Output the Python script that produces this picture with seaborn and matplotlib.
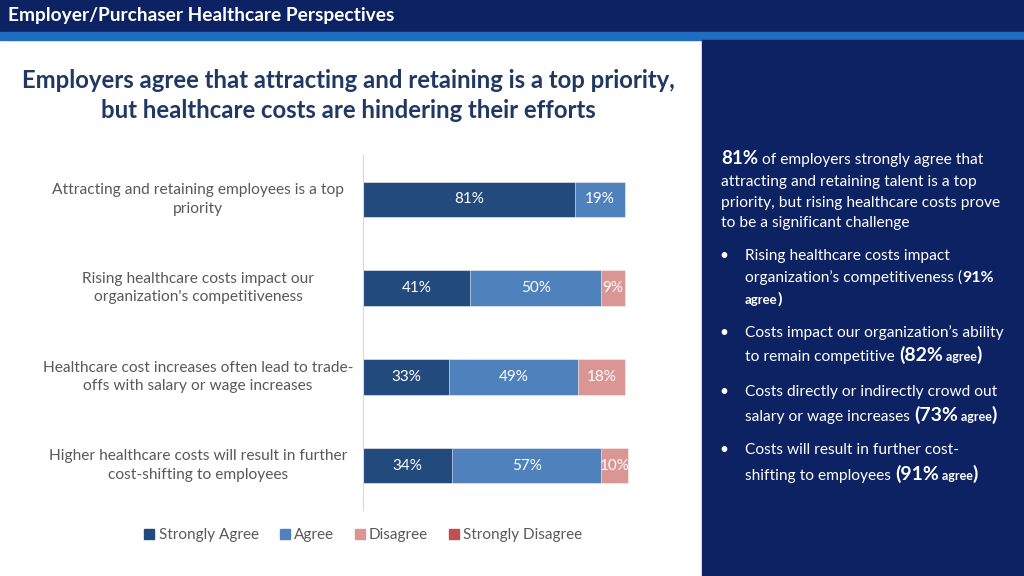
import pandas as pd
import numpy as np
import matplotlib
matplotlib.use("Agg")
import matplotlib.pyplot as plt
from matplotlib.patches import Rectangle
from matplotlib.lines import Line2D
import seaborn as sns

# data
categories = [
    "Attracting and retaining employees is a top\npriority",
    "Rising healthcare costs impact our\norganization's competitiveness",
    "Healthcare cost increases often lead to trade-\noffs with salary or wage increases",
    "Higher healthcare costs will result in further\ncost-shifting to employees",
]
strongly_agree = [81, 41, 33, 34]
agree = [19, 50, 49, 57]
disagree = [0, 9, 18, 10]
strongly_disagree = [0, 0, 0, 0]
series_names = ["Strongly Agree", "Agree", "Disagree", "Strongly Disagree"]
colors = ["#234a7d", "#4f81bd", "#d99694", "#c0504d"]

NAVY = "#0c2262"
FONT = "Lato"

sns.set_style("white")
plt.rcParams["font.family"] = [FONT, "DejaVu Sans"]

W, H = 1024, 576
fig = plt.figure(figsize=(W / 100, H / 100), dpi=100)


def px(x, y):
    return x / W, 1 - y / H


# slide background
fig.patches.append(Rectangle(px(0, 32), 1, 32 / H, transform=fig.transFigure, color=NAVY, zorder=0))
fig.patches.append(Rectangle(px(0, 40), 1, 8 / H, transform=fig.transFigure, color="#1f6cc0", zorder=0))
fig.patches.append(Rectangle(px(702, 576), 322 / W, 536 / H, transform=fig.transFigure, color=NAVY, zorder=0))

fig.text(*px(8, 15), "Employer/Purchaser Healthcare Perspectives", color="white",
         fontsize=13.8, fontweight="bold", va="center", ha="left")

fig.text(*px(348, 81), "Employers agree that attracting and retaining is a top priority,",
         color="#1f3864", fontsize=17.2, fontweight="bold", ha="center", va="center")
fig.text(*px(348, 111), "but healthcare costs are hindering their efforts",
         color="#1f3864", fontsize=17.2, fontweight="bold", ha="center", va="center")

# stacked bars
df = pd.DataFrame({"category": categories, "Strongly Agree": strongly_agree, "Agree": agree,
                   "Disagree": disagree, "Strongly Disagree": strongly_disagree})
cum = df[series_names].cumsum(axis=1)

ax = fig.add_axes([363 / W, 1 - 510 / H, 262 / W, 355 / H])
for name, col in reversed(list(zip(series_names, colors))):
    sns.barplot(x=cum[name], y=df["category"], orient="h", color=col, width=0.4,
                ax=ax, saturation=1, edgecolor="white", linewidth=0.4)
for p in ax.patches:
    p.set_clip_on(False)

for i in range(len(df)):
    left = 0
    for name in series_names:
        v = df[name][i]
        if v > 0:
            ax.text(left + v / 2, i, f"{v}%", color="white", fontsize=11,
                    ha="center", va="center")
        left += v

ax.set_xlim(0, 100)
ax.set_xticks([])
ax.set_yticks([])
ax.set_xlabel("")
ax.set_ylabel("")
for s in ["top", "right", "bottom"]:
    ax.spines[s].set_visible(False)
ax.spines["left"].set_color("#d9d9d9")

for i, c in enumerate(categories):
    ax.text((198 - 363) / 262, i, c, transform=ax.get_yaxis_transform(), ha="center",
            va="center", fontsize=11.2, color="#595959", linespacing=1.4)

handles = [Line2D([], [], marker="s", linestyle="", color=c, markersize=7) for c in colors]
fig.legend(handles, series_names, loc="center", bbox_to_anchor=px(362, 535), ncol=4,
           frameon=False, fontsize=11, handletextpad=0.1, columnspacing=1.2,
           labelcolor="#595959", handlelength=1.0)

# right panel rich text
renderer = fig.canvas.get_renderer()


def rich(x, y, parts):
    for txt, size, bold in parts:
        t = fig.text(*px(x, y), txt, color="white", fontsize=size,
                     fontweight="bold" if bold else "normal", ha="left", va="baseline")
        bb = t.get_window_extent(renderer)
        x += bb.width


N = 11.2
rich(721, 164, [("81%", 13.5, True), (" of employers strongly agree that", N, False)])
rich(721, 186, [("attracting and retaining talent is a top", N, False)])
rich(721, 207, [("priority, but rising healthcare costs prove", N, False)])
rich(721, 227, [("to be a significant challenge", N, False)])

bullets = [
    (260, [[("Rising healthcare costs impact", N, False)],
           [("organization\u2019s competitiveness (", N, False), ("91%", 11.5, True)],
           [("agree", 9.5, True), (")", 11.5, True)]], [0, 22, 44]),
    (337, [[("Costs impact our organization\u2019s ability", N, False)],
           [("to remain competitive ", N, False), ("(82%", 14, True), (" agree", 9, True), (")", 14, True)]],
     [0, 24]),
    (396, [[("Costs directly or indirectly crowd out", N, False)],
           [("salary or wage increases ", N, False), ("(73%", 14, True), (" agree", 9, True), (")", 14, True)]],
     [0, 25]),
    (454, [[("Costs will result in further cost-", N, False)],
           [("shifting to employees ", N, False), ("(91%", 14, True), (" agree", 9, True), (")", 14, True)]],
     [0, 26]),
]
for y0, lines, offs in bullets:
    fig.text(*px(719, y0), "\u2022", color="white", fontsize=N, ha="left", va="baseline")
    for parts, off in zip(lines, offs):
        rich(745, y0 + off, parts)

fig.savefig("out.png", dpi=100)
